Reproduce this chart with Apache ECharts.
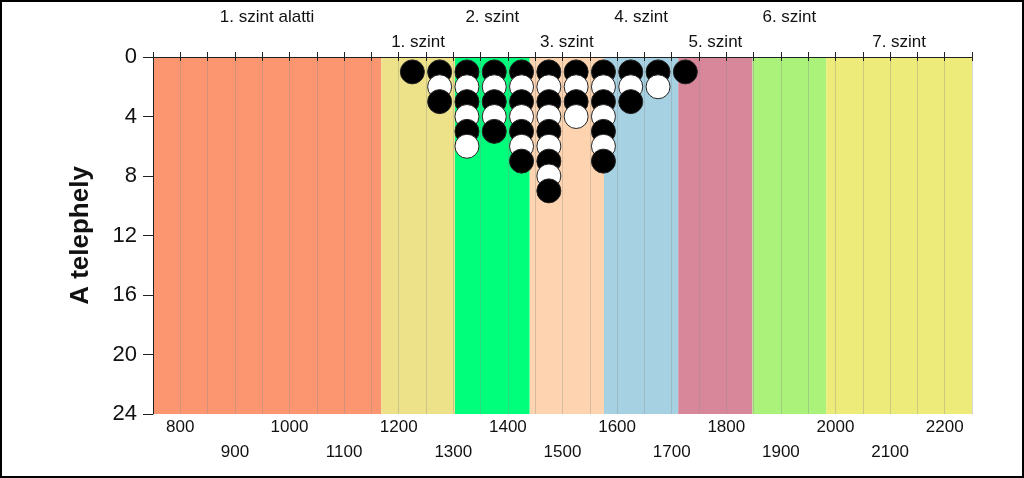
<!DOCTYPE html>
<html>
<head>
<meta charset="utf-8">
<script src="https://cdn.jsdelivr.net/npm/echarts@6/dist/echarts.min.js"></script>
<style>
html,body{margin:0;padding:0;background:#fff;}
#c{width:1024px;height:478px;}
</style>
</head>
<body>
<div id="c"></div>
<script>
// ---- data ----
const xMin = 750, xMax = 2250, xStep = 50;
const xLabelsUpper = [800, 1000, 1200, 1400, 1600, 1800, 2000, 2200];
const xLabelsLower = [900, 1100, 1300, 1500, 1700, 1900, 2100];
const yMin = 0, yMax = 24, yStep = 4;
const yName = 'A telephely';
const levelNames = ['1. szint alatti', '1. szint', '2. szint', '3. szint', '4. szint', '5. szint', '6. szint', '7. szint'];
const levelBounds = [750, 1168, 1303, 1440, 1576, 1712, 1848, 1983, 2250];
const levelColors = ['#FC9670', '#EDE28A', '#00FF7B', '#FED4B0', '#A6D1E3', '#D8879B', '#ABF27A', '#EDEC7A'];
const dotX = [1225, 1275, 1325, 1375, 1425, 1475, 1525, 1575, 1625, 1675, 1725];
const dotCount = [1, 3, 6, 5, 7, 9, 4, 7, 3, 2, 1];

// ---- derived ----
const levelCenters = levelNames.map((n, i) => (levelBounds[i] + levelBounds[i + 1]) / 2);
const topUpper = levelCenters.filter((c, i) => i % 2 === 0);
const topLower = levelCenters.filter((c, i) => i % 2 === 1);
function levelLabel(v) {
  const i = levelCenters.findIndex(c => Math.abs(c - v) < 0.01);
  return i >= 0 ? levelNames[i] : '';
}
function plainNum(v) { return String(v); }
const dots = [];
dotX.forEach((x, k) => {
  for (let j = 1; j <= dotCount[k]; j++) {
    dots.push({ value: [x, j], itemStyle: { color: j % 2 === 1 ? '#000000' : '#ffffff' } });
  }
});
const bandData = levelNames.map((n, i) => [
  { xAxis: levelBounds[i], itemStyle: { color: levelColors[i], opacity: 1 } },
  { xAxis: levelBounds[i + 1] }
]);

const FONT = '"Liberation Sans", Arial, sans-serif';
const TXT = '#111';

const chart = echarts.init(document.getElementById('c'), null, { renderer: 'canvas' });
const common = { type: 'value', min: xMin, max: xMax, interval: xStep };
chart.setOption({
  animation: false,
  backgroundColor: '#fff',
  grid: { left: 153, right: 52, top: 57, bottom: 64, containLabel: false },
  xAxis: [
    Object.assign({}, common, {
      position: 'bottom', z: 3,
      axisLine: { show: true, lineStyle: { color: '#222', width: 1 } },
      axisTick: { show: true, inside: false, length: 4, lineStyle: { color: '#222' } },
      axisLabel: { customValues: xLabelsUpper, formatter: plainNum, margin: 5, fontSize: 17, color: TXT, fontFamily: FONT },
      splitLine: { show: true, lineStyle: { color: 'rgba(140,140,140,0.35)', width: 1 } }
    }),
    Object.assign({}, common, {
      position: 'bottom',
      axisLine: { show: false }, axisTick: { show: false }, splitLine: { show: false },
      axisLabel: { customValues: xLabelsLower, formatter: plainNum, margin: 30, fontSize: 17, color: TXT, fontFamily: FONT }
    }),
    Object.assign({}, common, {
      position: 'top', z: 3,
      axisLine: { show: true, lineStyle: { color: '#222', width: 1 } },
      axisTick: { show: true, inside: false, length: 5, lineStyle: { color: '#222' } },
      axisLabel: { show: false }, splitLine: { show: false }
    }),
    Object.assign({}, common, {
      position: 'top',
      axisLine: { show: false }, axisTick: { show: false }, splitLine: { show: false },
      axisLabel: { customValues: topUpper, formatter: levelLabel, margin: 31, fontSize: 17, color: TXT, fontFamily: FONT }
    }),
    Object.assign({}, common, {
      position: 'top',
      axisLine: { show: false }, axisTick: { show: false }, splitLine: { show: false },
      axisLabel: { customValues: topLower, formatter: levelLabel, margin: 6, fontSize: 17, color: TXT, fontFamily: FONT }
    })
  ],
  yAxis: {
    type: 'value', min: yMin, max: yMax, interval: yStep, inverse: true, z: 3,
    name: yName, nameLocation: 'middle', nameRotate: 90, nameGap: 59,
    nameTextStyle: { fontSize: 26, fontWeight: 'bold', color: TXT, fontFamily: FONT },
    axisLine: { show: true, lineStyle: { color: '#222', width: 1 } },
    axisTick: { show: true, inside: false, length: 10, lineStyle: { color: '#222' } },
    axisLabel: { margin: 16, fontSize: 22, color: TXT, fontFamily: FONT },
    splitLine: { show: false }
  },
  graphic: [{
    type: 'rect', z: 100, silent: true,
    shape: { x: 1, y: 1, width: 1022, height: 476 },
    style: { fill: 'none', stroke: '#000', lineWidth: 2 }
  }],
  series: [
    {
      type: 'scatter', name: 'bands', xAxisIndex: 0, yAxisIndex: 0, z: 1, data: [],
      markArea: { silent: true, z: 1, data: bandData }
    },
    {
      type: 'scatter', name: 'dots', xAxisIndex: 0, yAxisIndex: 0, z: 5,
      symbol: 'circle', symbolSize: 24,
      itemStyle: { borderColor: '#222', borderWidth: 1, opacity: 1 },
      data: dots
    }
  ]
});
</script>
</body>
</html>
